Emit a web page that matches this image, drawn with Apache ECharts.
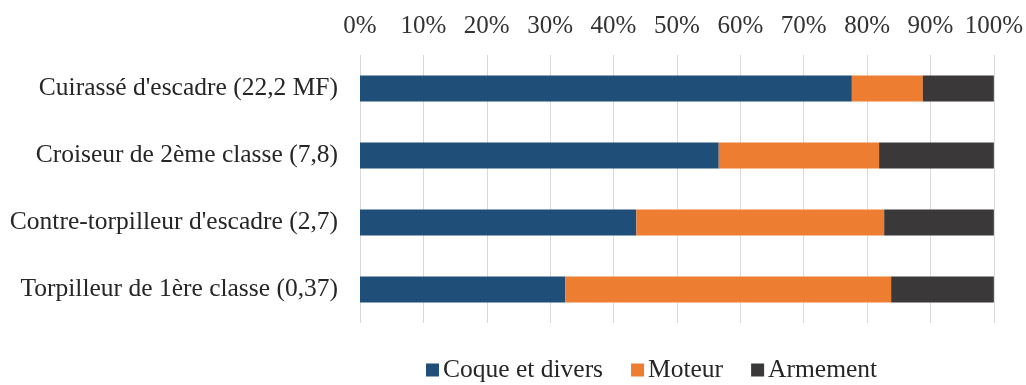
<!DOCTYPE html>
<html>
<head>
<meta charset="utf-8">
<script src="https://cdn.jsdelivr.net/npm/echarts@6/dist/echarts.min.js"></script>
<style>html,body{margin:0;padding:0;background:#fff}#c{width:1026px;height:385px}</style>
</head>
<body>
<div id="c"></div>
<script>
const categories = ["Cuirassé d'escadre (22,2 MF)", "Croiseur de 2ème classe (7,8)", "Contre-torpilleur d'escadre (2,7)", "Torpilleur de 1ère classe (0,37)"];
const coque = [77.6, 56.6, 43.6, 32.4];
const moteur = [11.2, 25.3, 39.1, 51.4];
const armement = [11.2, 18.1, 17.3, 16.2];
const seriesNames = ["Coque et divers", "Moteur", "Armement"];
const colors = ["#1F4E79", "#ED7D31", "#3A3838"];

const font = "Liberation Serif";
const chart = echarts.init(document.getElementById('c'));
chart.setOption({
  animation: false,
  textStyle: { fontFamily: font },
  grid: { left: 360, right: 31, top: 55, bottom: 62, containLabel: false },
  xAxis: {
    type: 'value', position: 'top', min: 0, max: 100, interval: 10,
    axisLine: { show: false }, axisTick: { show: false },
    axisLabel: { formatter: '{value}%', fontFamily: font, fontSize: 25, color: '#333', margin: 16 },
    splitLine: { lineStyle: { color: '#D9D9D9', width: 1 } }
  },
  yAxis: {
    type: 'category', data: categories, inverse: true,
    axisLine: { show: false }, axisTick: { show: false },
    axisLabel: { fontFamily: font, fontSize: 25.5, color: '#262626', margin: 22 }
  },
  legend: {
    top: 357, left: 426, icon: 'rect', itemWidth: 13, itemHeight: 13, itemGap: 28, padding: 0,
    textStyle: { fontFamily: font, fontSize: 25.5, color: '#262626', padding: [0, 0, 0, -1] },
    data: seriesNames
  },
  series: [coque, moteur, armement].map((d, i) => ({
    name: seriesNames[i], type: 'bar', stack: 'total', data: d, barWidth: 26,
    itemStyle: { color: colors[i] }
  }))
});
</script>
</body>
</html>
